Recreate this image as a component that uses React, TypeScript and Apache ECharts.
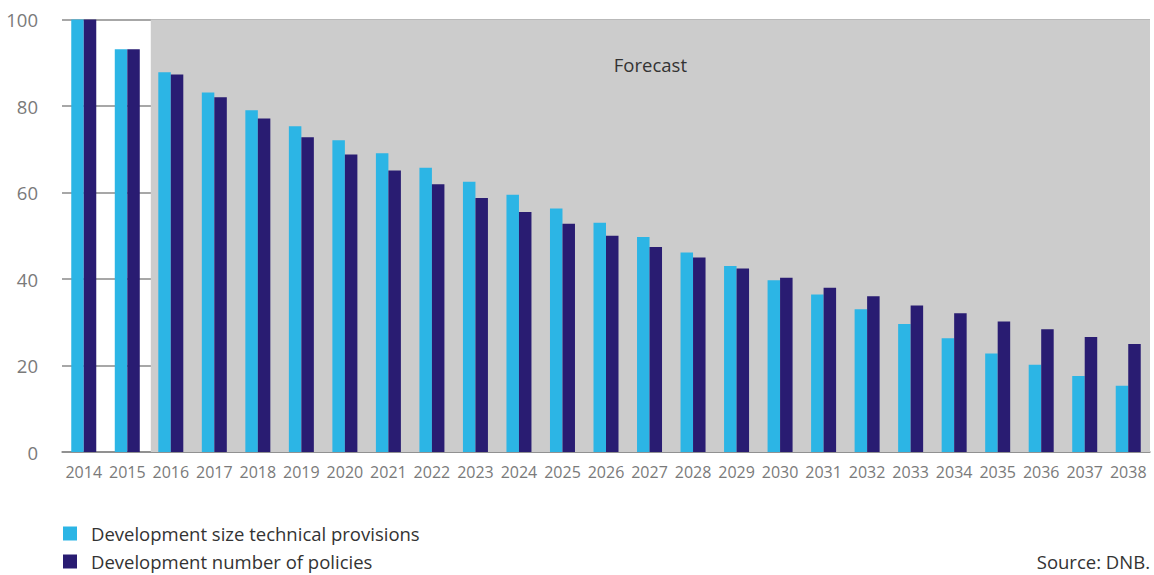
import React, { useEffect, useRef } from "react";
import * as echarts from "echarts";

const years = ["2014","2015","2016","2017","2018","2019","2020","2021","2022","2023","2024","2025","2026","2027","2028","2029","2030","2031","2032","2033","2034","2035","2036","2037","2038"];
const sizeProvisions = [100, 93.1, 87.8, 83.1, 79.0, 75.3, 72.1, 69.1, 65.7, 62.5, 59.5, 56.3, 53.0, 49.7, 46.1, 43.0, 39.7, 36.4, 33.0, 29.6, 26.3, 22.8, 20.2, 17.6, 15.3];
const numberPolicies = [100, 93.1, 87.3, 82.0, 77.1, 72.8, 68.8, 65.1, 61.9, 58.7, 55.5, 52.8, 50.0, 47.4, 45.0, 42.4, 40.3, 38.0, 36.0, 33.9, 32.1, 30.2, 28.4, 26.6, 25.0];
const seriesNames = ["Development size technical provisions", "Development number of policies"];
const forecastStart = 2; // index of first forecast category
const forecastLabel = "Forecast";
const sourceText = "Source: DNB.";

const FONT = "'Open Sans', 'Noto Sans', sans-serif";

const legendCommon = {
  orient: "vertical",
  left: 63,
  padding: 0,
  itemWidth: 14,
  itemHeight: 14,
  icon: "rect",
  textStyle: { fontSize: 18.5, lineHeight: 18, color: "#333", fontFamily: FONT, padding: [0, 0, 0, 9] },
};

export default function App() {
  const ref = useRef<HTMLDivElement>(null);
  useEffect(() => {
    if (!ref.current) return;
    const chart = echarts.init(ref.current, undefined, { renderer: "svg" });
    chart.setOption({
      animation: false,
      textStyle: { fontFamily: FONT },
      grid: { left: 62, right: 4, top: 19.5, bottom: 123, containLabel: false },
      legend: [
        { ...legendCommon, top: 524, data: [seriesNames[0]] },
        { ...legendCommon, top: 552, data: [seriesNames[1]] },
      ],
      xAxis: [
        {
          type: "category",
          data: years,
          axisLine: { lineStyle: { color: "#8a8a8a", width: 1.5 } },
          axisTick: { length: 15, lineStyle: { color: "#8a8a8a", width: 1.5 } },
          axisLabel: { fontSize: 16, color: "#7a7a7a", margin: 12, interval: 0, fontFamily: FONT },
        },
        {
          type: "value",
          min: 0,
          max: years.length,
          show: false,
        },
      ],
      yAxis: {
        type: "value",
        min: 0,
        max: 100,
        interval: 20,
        axisLine: { show: false },
        axisTick: { show: false },
        axisLabel: { fontSize: 18.5, color: "#7a7a7a", margin: 24, fontFamily: FONT },
        splitLine: { lineStyle: { color: "#8a8a8a", width: 1.5 } },
      },
      series: [
        {
          type: "line",
          xAxisIndex: 1,
          data: [],
          silent: true,
          markArea: {
            silent: true,
            itemStyle: { color: "#cccccc" },
            label: {
              show: true,
              position: "insideTop",
              distance: 35,
              color: "#333",
              fontSize: 18.5,
              fontFamily: FONT,
            },
            data: [[{ name: forecastLabel, xAxis: forecastStart + 0.04, yAxis: 0 }, { xAxis: years.length, yAxis: 100 }]],
          },
          z: 0,
        },
        {
          name: seriesNames[0],
          type: "bar",
          data: sizeProvisions,
          barWidth: 12.5,
          barGap: "0%",
          itemStyle: { color: "#2cb5e5" },
          z: 2,
        },
        {
          name: seriesNames[1],
          type: "bar",
          data: numberPolicies,
          barWidth: 12.5,
          barGap: "0%",
          itemStyle: { color: "#291c72" },
          z: 2,
        },
      ],
      graphic: [
        {
          type: "text",
          right: 4,
          top: 552,
          style: { text: sourceText, fontSize: 18.5, lineHeight: 18, fill: "#333", fontFamily: FONT },
        },
      ],
    });
    return () => chart.dispose();
  }, []);
  return <div ref={ref} style={{ width: 1154, height: 575, position: "absolute", left: 0, top: 0 }} />;
}
